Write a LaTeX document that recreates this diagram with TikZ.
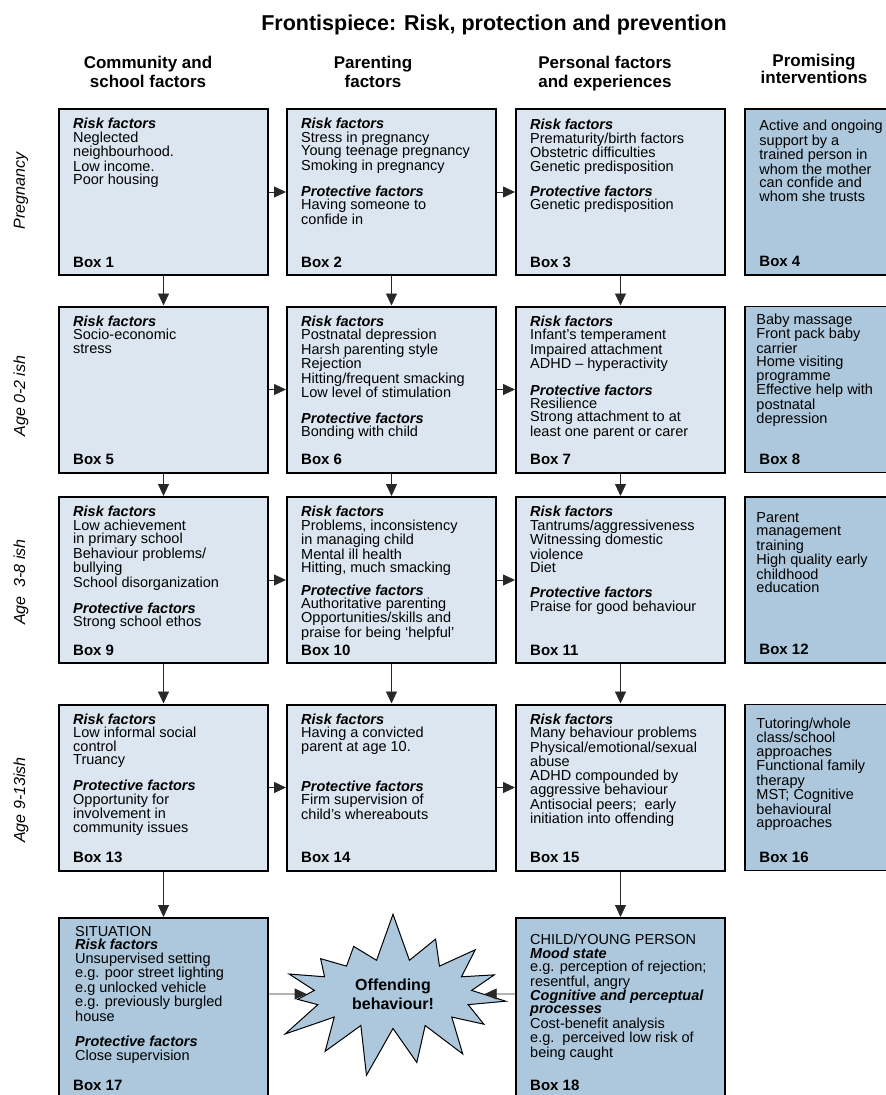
\documentclass[tikz,border=0pt]{standalone}
\usepackage{fontspec}
\setmainfont{Liberation Sans}
\usepackage{xcolor}
\usepackage{tikz}
\usetikzlibrary{shapes.symbols, arrows.meta, positioning, calc}
\definecolor{factorfill}{RGB}{220,230,240}
\definecolor{actionfill}{RGB}{173,200,220}
\definecolor{flowcolor}{RGB}{40,40,40}
\newcommand{\riskhead}{\textbf{\textit{Risk factors}}}
\newcommand{\prothead}{\textbf{\textit{Protective factors}}}

\begin{document}
\begin{tikzpicture}[
    x=1pt, y=-1pt,
    box/.style={draw, line width=2pt, fill=factorfill, minimum width=209pt, minimum height=166pt, inner sep=0pt},
    actbox/.style={box, fill=actionfill, line width=1.5pt},
    txt/.style={anchor=north west, inner sep=0pt, align=left, font=\fontsize{14.5}{13.4}\selectfont},
    boxlabel/.style={anchor=base west, inner sep=0pt, font=\fontsize{15}{15}\selectfont\bfseries},
    colhead/.style={anchor=north, inner sep=0pt, align=center, font=\fontsize{17}{19}\selectfont\bfseries},
    rowhead/.style={rotate=90, inner sep=0pt, font=\fontsize{16}{16}\selectfont\itshape},
    burst/.style={starburst, draw, line width=1pt, fill=actionfill, inner xsep=15pt, inner ysep=9pt,
        starburst points=15, starburst point height=50pt, random starburst=7, align=center,
        font=\fontsize{16}{19}\selectfont\bfseries},
    arrow/.style={-{Triangle[length=12pt, width=11pt]}, line width=0.8pt, flowcolor}
]
    \path[use as bounding box, fill=white] (0,0) rectangle (886,1095);

    % Title and column heads
    \node[anchor=base, inner sep=0pt, font=\fontsize{21.5}{24}\selectfont\bfseries] (title) at (494,30) {Frontispiece: Risk, protection and prevention};
    \node[colhead] (hcom) at (148,56) {Community and\\school factors};
    \node[colhead] (hpar) at (373,56) {Parenting\\factors};
    \node[colhead] (hper) at (605,56) {Personal factors\\and experiences};
    \node[colhead, font=\fontsize{17}{17}\selectfont\bfseries] (hint) at (814,54) {Promising\\interventions};

    % Age bands
    \node[rowhead] (rpreg) at (21,191) {Pregnancy};
    \node[rowhead] (rbaby) at (21,396) {Age 0-2 ish};
    \node[rowhead] (rkid) at (21,582) {Age\ \ 3-8 ish};
    \node[rowhead] (rteen) at (21,800) {Age 9-13ish};

    % Boxes
    \node[box] (b1) at (163.5,192) {};
    \node[box] (b2) at (391.5,192) {};
    \node[box] (b3) at (620.5,192) {};
    \node[actbox] (b4) at (849.5,192) {};
    \node[box] (b5) at (163.5,389.5) {};
    \node[box] (b6) at (391.5,389.5) {};
    \node[box] (b7) at (620.5,389.5) {};
    \node[actbox] (b8) at (849.5,389.5) {};
    \node[box] (b9) at (163.5,580) {};
    \node[box] (b10) at (391.5,580) {};
    \node[box] (b11) at (620.5,580) {};
    \node[actbox] (b12) at (849.5,580) {};
    \node[box] (b13) at (163.5,787.5) {};
    \node[box] (b14) at (391.5,787.5) {};
    \node[box] (b15) at (620.5,787.5) {};
    \node[actbox] (b16) at (849.5,787.5) {};
    \node[box, fill=actionfill, minimum height=180pt] (b17) at (163.5,1008) {};
    \node[box, fill=actionfill, minimum height=180pt] (b18) at (620.5,1008) {};
    \node[burst] (offend) at (393,994) {Offending\\behaviour!};

    % Box texts
    \node[txt] (t1) at ([shift={(15pt,-10pt)}]b1.north west) {\riskhead\\Neglected\\neighbourhood.\\Low income.\\Poor housing};
    \node[txt] (t2) at ([shift={(15pt,-10pt)}]b2.north west) {\riskhead\\Stress in pregnancy\\Young teenage pregnancy\\Smoking in pregnancy\\[12pt]\prothead\\Having someone to\\confide in};
    \node[txt] (t3) at ([shift={(15pt,-11pt)}]b3.north west) {\riskhead\\Prematurity/birth factors\\Obstetric difficulties\\Genetic predisposition\\[11pt]\prothead\\Genetic predisposition};
    \node[txt] (t4) at ([shift={(15pt,-12pt)}]b4.north west) {Active and ongoing\\support by a\\trained person in\\whom the mother\\can confide and\\whom she trusts};
    \node[txt] (t5) at ([shift={(15pt,-10pt)}]b5.north west) {\riskhead\\Socio-economic\\stress};
    \node[txt] (t6) at ([shift={(15pt,-10pt)}]b6.north west) {\riskhead\\Postnatal depression\\Harsh parenting style\\Rejection\\Hitting/frequent smacking\\Low level of stimulation\\[12pt]\prothead\\Bonding with child};
    \node[txt] (t7) at ([shift={(15pt,-10pt)}]b7.north west) {\riskhead\\Infant’s temperament\\Impaired attachment\\ADHD – hyperactivity\\[12pt]\prothead\\Resilience\\Strong attachment to at\\least one parent or carer};
    \node[txt] (t8) at ([shift={(12pt,-8pt)}]b8.north west) {Baby massage\\Front pack baby\\carrier\\Home visiting\\programme\\Effective help with\\postnatal\\depression};
    \node[txt] (t9) at ([shift={(15pt,-10pt)}]b9.north west) {\riskhead\\Low achievement\\in primary school\\Behaviour problems/\\bullying\\School disorganization\\[12pt]\prothead\\Strong school ethos};
    \node[txt] (t10) at ([shift={(15pt,-10pt)}]b10.north west) {\riskhead\\Problems, inconsistency\\in managing child\\Mental ill health\\Hitting, much smacking\\[8pt]\prothead\\Authoritative parenting\\Opportunities/skills and\\praise for being ‘helpful’};
    \node[txt] (t11) at ([shift={(15pt,-10pt)}]b11.north west) {\riskhead\\Tantrums/aggressiveness\\Witnessing domestic\\violence\\Diet\\[12pt]\prothead\\Praise for good behaviour};
    \node[txt] (t12) at ([shift={(12pt,-16pt)}]b12.north west) {Parent\\management\\training\\High quality early\\childhood\\education};
    \node[txt] (t13) at ([shift={(15pt,-10pt)}]b13.north west) {\riskhead\\Low informal social\\control\\Truancy\\[12pt]\prothead\\Opportunity for\\involvement in\\community issues};
    \node[txt] (t14) at ([shift={(15pt,-10pt)}]b14.north west) {\riskhead\\Having a convicted\\parent at age 10.\\[26pt]\prothead\\Firm supervision of\\child’s whereabouts};
    \node[txt] (t15) at ([shift={(15pt,-10pt)}]b15.north west) {\riskhead\\Many behaviour problems\\Physical/emotional/sexual\\abuse\\ADHD compounded by\\aggressive behaviour\\Antisocial peers;\ \ early\\initiation into offending};
    \node[txt] (t16) at ([shift={(12pt,-14pt)}]b16.north west) {Tutoring/whole\\class/school\\approaches\\Functional family\\therapy\\MST; Cognitive\\behavioural\\approaches};
    \node[txt] (t17) at ([shift={(17pt,-9pt)}]b17.north west) {SITUATION\\\riskhead\\Unsupervised setting\\e.g. poor street lighting\\e.g unlocked vehicle\\e.g. previously burgled\\house\\[12pt]\prothead\\Close supervision};
    \node[txt] (t18) at ([shift={(15pt,-17pt)}]b18.north west) {CHILD/YOUNG PERSON\\\textbf{\textit{Mood state}}\\e.g. perception of rejection;\\resentful, angry\\\textbf{\textit{Cognitive and perceptual}}\\\textbf{\textit{processes}}\\Cost-benefit analysis\\e.g.\ \ perceived low risk of\\being caught};

    % Box numbers
    \foreach \n in {1,...,18}
        \node[boxlabel] (lab\n) at ([shift={(15pt,9pt)}]b\n.south west) {Box \n};

    % Arrows down the columns
    \draw[arrow] (b1) -- (b5);
    \draw[arrow] (b5) -- (b9);
    \draw[arrow] (b9) -- (b13);
    \draw[arrow] (b13) -- (b17);
    \draw[arrow] (b2) -- (b6);
    \draw[arrow] (b6) -- (b10);
    \draw[arrow] (b10) -- (b14);
    \draw[arrow] (b3) -- (b7);
    \draw[arrow] (b7) -- (b11);
    \draw[arrow] (b11) -- (b15);
    \draw[arrow] (b15) -- (b18);

    % Arrows across the rows
    \draw[arrow] (b1) -- (b2);
    \draw[arrow] (b2) -- (b3);
    \draw[arrow] (b5) -- (b6);
    \draw[arrow] (b6) -- (b7);
    \draw[arrow] (b9) -- (b10);
    \draw[arrow] (b10) -- (b11);
    \draw[arrow] (b13) -- (b14);
    \draw[arrow] (b14) -- (b15);

    % Into the offence
    \draw[arrow] (b17.east |- offend) -- (offend);
    \draw[arrow] (b18.west |- offend) -- (offend);
\end{tikzpicture}
\end{document}
